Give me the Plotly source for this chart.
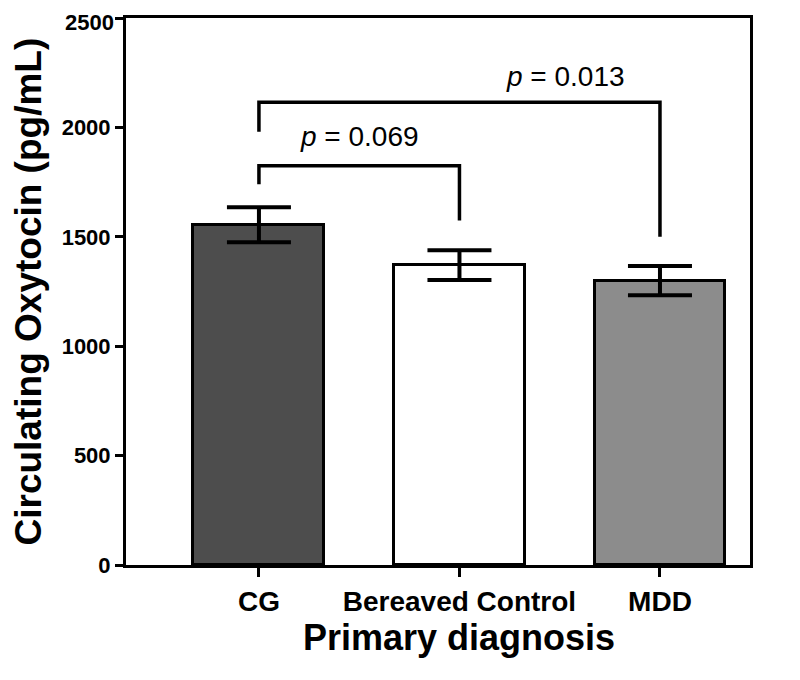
import plotly.graph_objects as go

categories = ["CG", "Bereaved Control", "MDD"]
means = [1555, 1370, 1300]
sems = [80, 68, 67]
bar_colors = ["#4d4d4d", "#ffffff", "#8c8c8c"]
y_ticks = [0, 500, 1000, 1500, 2000, 2500]

# significance brackets
bracket_pairs = [(0, 1), (0, 2)]
bracket_tops = [1825, 2115]
bracket_left_ends = [1740, 1980]
bracket_right_ends = [1575, 1500]
bracket_labels = ["<i>p</i> = 0.069", "<i>p</i> = 0.013"]
label_x = [0.5, 1.53]
label_y = [1960, 2232]

FONT = "Liberation Sans, Arial, sans-serif"
xpos = list(range(len(categories)))

fig = go.Figure()
fig.add_trace(go.Bar(
    x=xpos, y=means, width=0.653,
    marker=dict(color=bar_colors, line=dict(color="black", width=3)),
    error_y=dict(type="data", array=sems, visible=True, color="black",
                 thickness=4, width=32),
    showlegend=False,
))

for (a, b), top, le, re_ in zip(bracket_pairs, bracket_tops,
                                bracket_left_ends, bracket_right_ends):
    fig.add_trace(go.Scatter(
        x=[xpos[a], xpos[a], xpos[b], xpos[b]],
        y=[le, top, top, re_],
        mode="lines", line=dict(color="black", width=3.5),
        showlegend=False, hoverinfo="skip",
    ))
for lab, lx, ly in zip(bracket_labels, label_x, label_y):
    fig.add_annotation(x=lx, y=ly, text=lab, showarrow=False,
                       font=dict(family=FONT, size=28, color="black"))

# top tick label drawn as annotation so it stays inside the figure
fig.add_annotation(xref="paper", yref="paper", x=0, y=1, xshift=-10, yshift=10,
                   xanchor="right", yanchor="top", text=f"<b>{y_ticks[-1]}</b>",
                   showarrow=False, font=dict(family=FONT, size=22, color="black"))

# axis titles
fig.add_annotation(xref="paper", yref="paper", x=0, y=0.5, xshift=-98,
                   text="<b>Circulating Oxytocin (pg/mL)</b>", textangle=-90,
                   showarrow=False, xanchor="center", yanchor="middle",
                   font=dict(family=FONT, size=37, color="black"))
fig.add_annotation(xref="x", yref="paper", x=1, y=0, yshift=-72,
                   text="<b>Primary diagnosis</b>",
                   showarrow=False, xanchor="center", yanchor="middle",
                   font=dict(family=FONT, size=36, color="black"))

fig.update_layout(
    width=792, height=672,
    margin=dict(l=118, r=50, t=10, b=115, autoexpand=False),
    plot_bgcolor="white", paper_bgcolor="white",
    font=dict(family=FONT, color="black"),
    bargap=0,
)
fig.update_xaxes(
    range=[-0.663, 2.449], tickvals=xpos, ticktext=[f"<b>{c}</b>" for c in categories],
    tickfont=dict(size=28, family=FONT), ticks="outside", ticklen=9, tickwidth=3,
    tickcolor="black", showline=True, linecolor="black", linewidth=3, mirror=True,
    showgrid=False, zeroline=False, automargin=False, ticklabeloverflow="allow",
)
fig.update_yaxes(
    range=[0, 2500], tickvals=y_ticks,
    ticktext=[f"<b>{v}</b>" for v in y_ticks[:-1]] + [""],
    tickfont=dict(size=22, family=FONT), ticks="outside", ticklen=8, tickwidth=3,
    tickcolor="black", showline=True, linecolor="black", linewidth=3, mirror=True,
    showgrid=False, zeroline=False, automargin=False, ticklabeloverflow="allow",
)

fig.write_html("out.html")
